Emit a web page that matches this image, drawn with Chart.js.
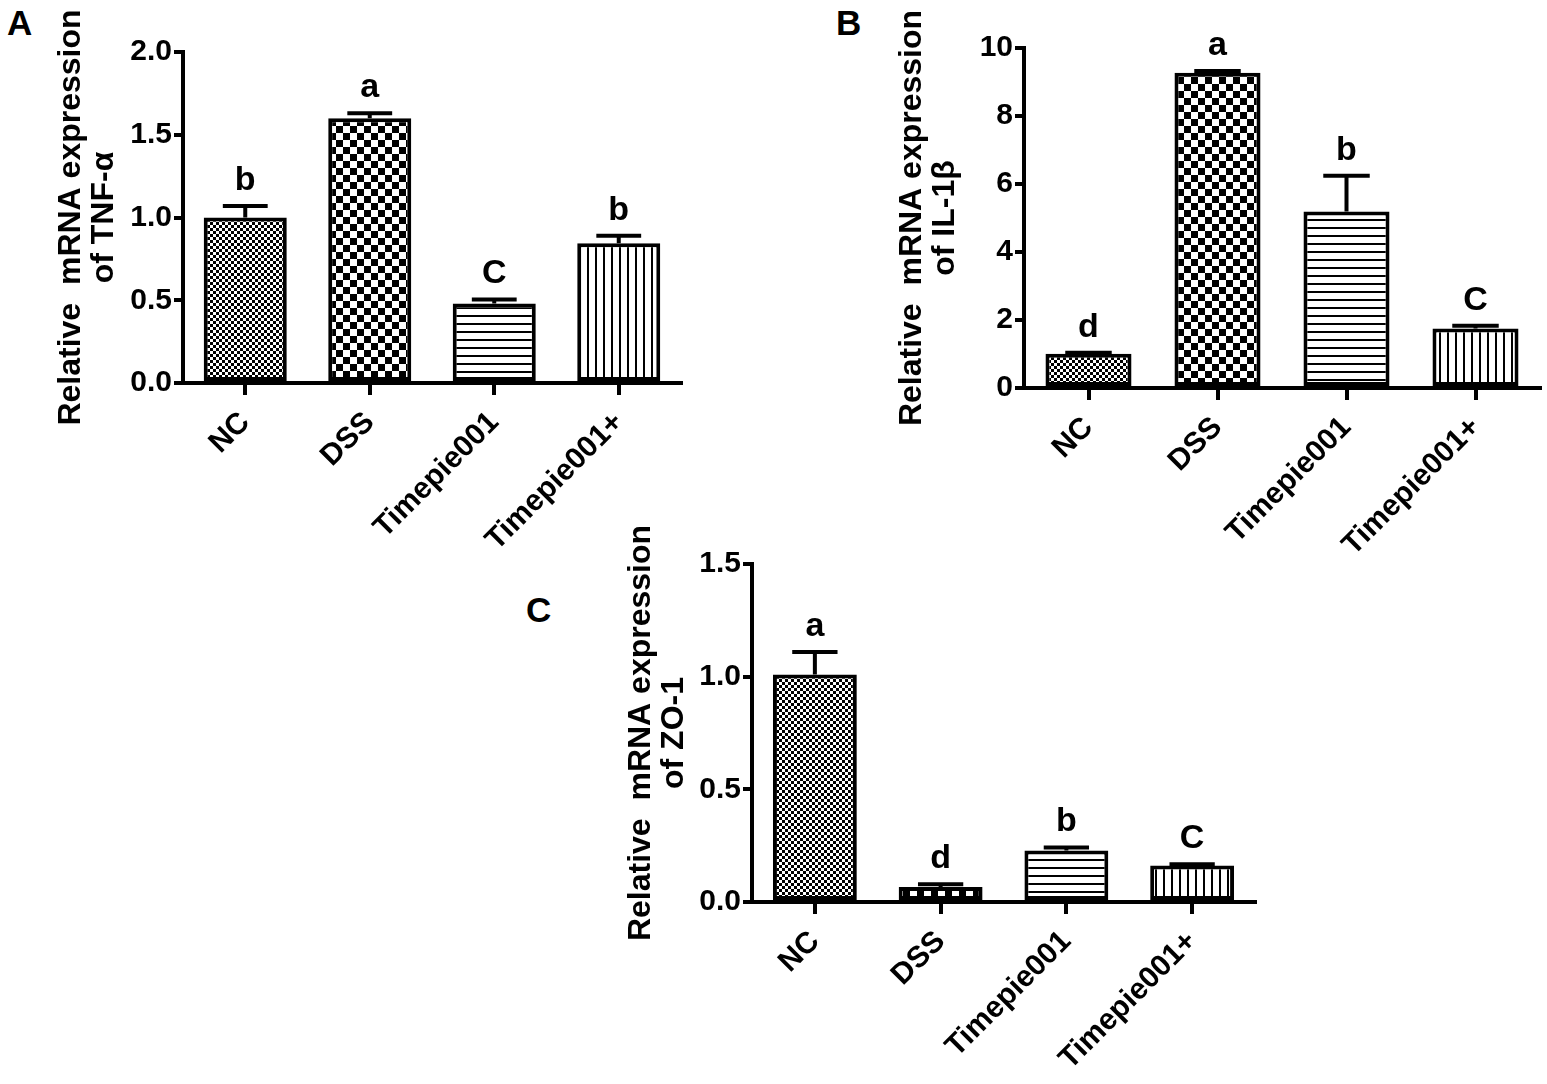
<!DOCTYPE html>
<html><head><meta charset="utf-8">
<script src="https://cdn.jsdelivr.net/npm/chart.js@4.4.0/dist/chart.umd.min.js"></script>
<style>
html,body{margin:0;padding:0;background:#fff;}
body{width:1547px;height:1084px;overflow:hidden;position:relative;}
canvas{position:absolute;}
.lbl{position:absolute;font:bold 35px "Liberation Sans",Arial,sans-serif;color:#000;line-height:1;}
</style></head><body>
<div class="lbl" style="left:7px;top:5px">A</div>
<div class="lbl" style="left:836px;top:5px">B</div>
<div class="lbl" style="left:526px;top:592px">C</div>
<canvas id="cA" style="left:0px;top:0px;width:740px;height:600px" width="740" height="600"></canvas>
<canvas id="cB" style="left:820px;top:0px;width:727px;height:600px" width="727" height="600"></canvas>
<canvas id="cC" style="left:560px;top:520px;width:720px;height:564px" width="720" height="564"></canvas>
<script>
// ---- data ----
const categories = ['NC', 'DSS', 'Timepie001', 'Timepie001+'];

const tnfValues  = [1.00, 1.60, 0.48, 0.845];
const tnfErrors  = [0.07, 0.03, 0.025, 0.045];
const tnfLetters = ['b', 'a', 'C', 'b'];
const tnfTicks   = [0.0, 0.5, 1.0, 1.5, 2.0];

const il1bValues  = [1.01, 9.27, 5.19, 1.75];
const il1bErrors  = [0.03, 0.05, 1.05, 0.08];
const il1bLetters = ['d', 'a', 'b', 'C'];
const il1bTicks   = [0, 2, 4, 6, 8, 10];

const zo1Values  = [1.01, 0.067, 0.228, 0.162];
const zo1Errors  = [0.10, 0.012, 0.014, 0.005];
const zo1Letters = ['a', 'd', 'b', 'C'];
const zo1Ticks   = [0.0, 0.5, 1.0, 1.5];

// ---- patterns ----
function makePattern(w, h, drawFn) {
  const c = document.createElement('canvas');
  c.width = w; c.height = h;
  const x = c.getContext('2d');
  x.fillStyle = '#fff'; x.fillRect(0, 0, w, h);
  x.fillStyle = '#000';
  drawFn(x);
  return x.createPattern(c, 'repeat');
}
function patterns() {
  return [
    makePattern(6, 6, g => { g.fillRect(0, 0, 3, 3); g.fillRect(3, 3, 3, 3); }),
    makePattern(14, 14, g => { g.fillRect(0, 0, 7, 7); g.fillRect(7, 7, 7, 7); }),
    makePattern(8, 8, g => { g.fillRect(0, 3, 8, 2); }),
    makePattern(8, 8, g => { g.fillRect(3, 0, 2, 8); })
  ];
}

const FONT = '"Liberation Sans", Arial, sans-serif';

const errPlugin = {
  id: 'errLetters',
  afterDatasetsDraw(chart, args, opts) {
    const ctx = chart.ctx;
    const meta = chart.getDatasetMeta(0);
    const ys = chart.scales.y;
    const vals = chart.data.datasets[0].data;
    ctx.save();
    ctx.strokeStyle = '#000';
    ctx.lineWidth = 4;
    ctx.lineCap = 'butt';
    meta.data.forEach((bar, i) => {
      const top = ys.getPixelForValue(vals[i] + opts.errors[i]);
      const half = bar.width * 0.27;
      ctx.beginPath();
      ctx.moveTo(bar.x, bar.y);
      ctx.lineTo(bar.x, top);
      ctx.moveTo(bar.x - half, top);
      ctx.lineTo(bar.x + half, top);
      ctx.stroke();
      ctx.fillStyle = '#000';
      ctx.font = 'bold 34px ' + FONT;
      ctx.textAlign = 'center';
      ctx.textBaseline = 'alphabetic';
      ctx.fillText(opts.letters[i], bar.x, top - 16);
    });
    ctx.restore();
  }
};

function makeChart(id, values, errors, letters, ticks, titleLines, fmt, lay) {
  const el = document.getElementById(id);
  const pats = patterns();
  return new Chart(el, {
    type: 'bar',
    data: {
      labels: categories,
      datasets: [{
        data: values,
        backgroundColor: pats,
        borderColor: '#000',
        borderWidth: 4,
        borderSkipped: false,
        barPercentage: 0.667,
        categoryPercentage: 1.0
      }]
    },
    options: {
      responsive: false,
      animation: false,
      devicePixelRatio: 1,
      layout: { padding: lay.padding },
      plugins: {
        legend: { display: false },
        tooltip: { enabled: false },
        errLetters: { errors: errors, letters: letters }
      },
      scales: {
        x: {
          z: 1,
          offset: true,
          grid: { display: true, drawOnChartArea: false, drawTicks: true, tickLength: 12, color: '#000', lineWidth: 4, offset: false },
          border: { display: true, color: '#000', width: 4 },
          ticks: { color: '#000', font: { family: FONT, size: 30, weight: 'bold' }, minRotation: 45, maxRotation: 45, autoSkip: false, padding: 10 },
          afterFit(s) { s.height = lay.xh; }
        },
        y: {
          z: 1,
          min: ticks[0],
          max: ticks[ticks.length - 1],
          grid: { display: true, drawOnChartArea: false, drawTicks: true, tickLength: 9, color: '#000', lineWidth: 4 },
          border: { display: true, color: '#000', width: 4 },
          ticks: { color: '#000', font: { family: FONT, size: 30, weight: 'bold' }, padding: 2, callback: v => fmt(v) },
          afterBuildTicks(s) { s.ticks = ticks.map(v => ({ value: v })); },
          title: {
            display: true,
            text: titleLines,
            color: '#000',
            font: { family: FONT, size: 32, weight: 'bold', lineHeight: 1.05 },
            padding: { top: lay.tp, bottom: 0 }
          },
          afterFit(s) { s.width = lay.yw; }
        }
      }
    },
    plugins: [errPlugin]
  });
}

const f1 = v => v.toFixed(1);
const f0 = v => String(Math.round(v));

makeChart('cA', tnfValues, tnfErrors, tnfLetters, tnfTicks,
  ['Relative  mRNA expression', 'of TNF-α'], f1,
  { padding: { left: 0, top: 52, right: 59, bottom: 17 }, xh: 200, yw: 183, tp: 54 });

makeChart('cB', il1bValues, il1bErrors, il1bLetters, il1bTicks,
  ['Relative  mRNA expression', 'of IL-1β'], f0,
  { padding: { left: 0, top: 48, right: 7, bottom: 12 }, xh: 200, yw: 204, tp: 75 });

makeChart('cC', zo1Values, zo1Errors, zo1Letters, zo1Ticks,
  ['Relative  mRNA expression', 'of ZO-1'], f1,
  { padding: { left: 0, top: 44, right: 25, bottom: 12 }, xh: 170, yw: 192, tp: 64 });
</script>
</body></html>
